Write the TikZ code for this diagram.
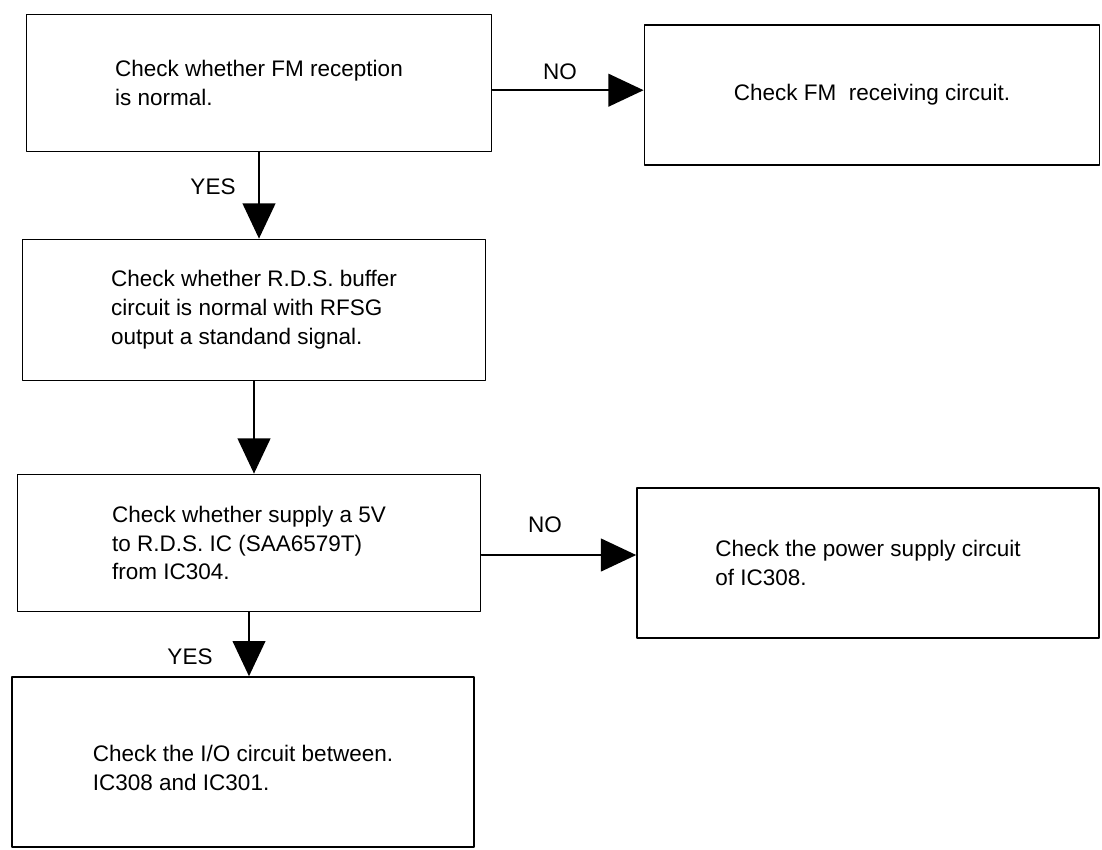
\documentclass[tikz,border=0pt]{standalone}
\usepackage{fontspec}
\setmainfont{Liberation Sans}
\usetikzlibrary{arrows.meta}
\begin{document}
\begin{tikzpicture}[x=0.025cm,y=-0.025cm,>={Triangle[length=0.88cm,width=0.82cm]},line cap=round,line join=round,
  stepbox/.style={draw,line width=1.1pt,align=left,inner sep=0pt,font=\fontsize{16}{20.5}\selectfont},
  flow/.style={->,line width=1.1pt},
  answer/.style={font=\fontsize{16}{18}\selectfont}]
\useasboundingbox (0,0) rectangle (1102,849);
\node[stepbox,minimum width=11.63cm,minimum height=3.43cm] (fm) at (259,83) {Check whether FM reception\\is normal.};
\node[stepbox,minimum width=11.38cm,minimum height=3.5cm] (recv) at (872,95) {Check FM\ \ receiving circuit.};
\node[stepbox,minimum width=11.58cm,minimum height=3.53cm] (rds) at (254,310) {Check whether R.D.S. buffer\\circuit is normal with RFSG\\output a standand signal.};
\node[stepbox,minimum width=11.58cm,minimum height=3.43cm] (supply) at (249,543) {Check whether supply a 5V\\to R.D.S. IC (SAA6579T)\\from IC304.};
\node[stepbox,minimum width=11.55cm,minimum height=3.75cm] (power) at (868,563) {\mbox{}\\[-9pt]Check the power supply circuit\\of IC308.};
\node[stepbox,minimum width=11.55cm,minimum height=4.25cm] (io) at (243,762) {\mbox{}\\Check the I/O circuit between.\\IC308 and IC301.};
\draw[flow] ([yshift=-0.18cm]fm.east) -- ([yshift=-0.18cm]fm.east -| recv.west);
\draw[flow] (fm.south) -- (fm.south |- rds.north);
\draw[flow] (rds.south) -- (rds.south |- supply.north);
\draw[flow] ([yshift=-0.3cm]supply.east) -- ([yshift=-0.3cm]supply.east -| power.west);
\draw[flow] (supply.south) -- (supply.south |- io.north);
\node[answer] (no1) at (560,72) {NO};
\node[answer] (yes1) at (213,187) {YES};
\node[answer] (no2) at (545,525) {NO};
\node[answer] (yes2) at (190,657) {YES};
\end{tikzpicture}
\end{document}
